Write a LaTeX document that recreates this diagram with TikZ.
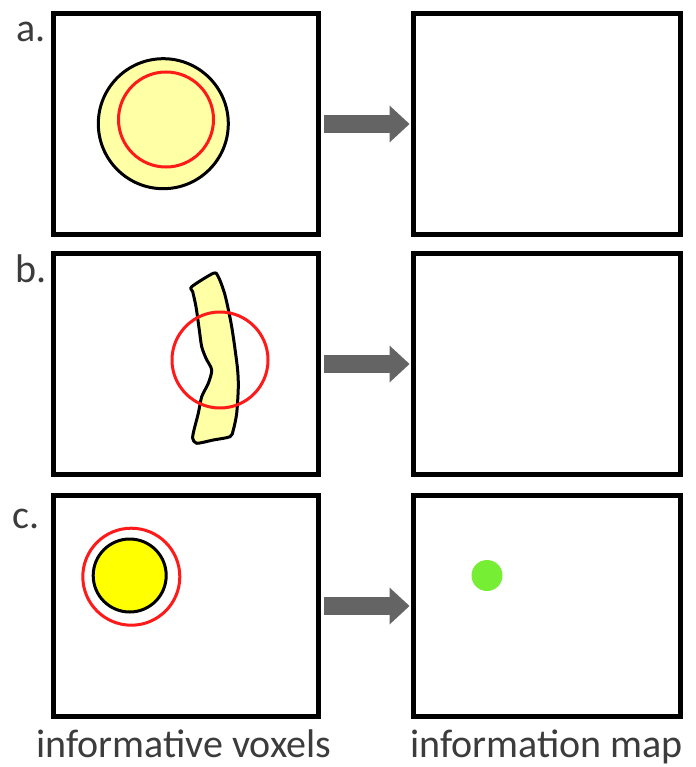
\documentclass[tikz,border=0pt]{standalone}
\usepackage{fontspec}
\setmainfont{Carlito}
\usetikzlibrary{arrows.meta}

\definecolor{inkgray}{HTML}{3C3C3C}
\definecolor{arrowgray}{HTML}{646464}
\definecolor{paleyellow}{HTML}{FFFFA6}
\definecolor{brightyellow}{HTML}{FFFF00}
\definecolor{roired}{HTML}{FF1A1A}
\definecolor{mapgreen}{RGB}{118,238,52}

\tikzset{
  panel/.style={draw=black, line width=5pt, rectangle, inner sep=0pt, outer sep=0pt, fill=white},
  leftpanel/.style={panel, minimum width=265pt, minimum height=221pt},
  rightpanel/.style={panel, minimum width=267pt, minimum height=221pt},
  tag/.style={inner sep=0pt, anchor=base west, text=inkgray, font=\fontsize{40}{44}\selectfont},
  caption/.style={tag},
  blockarrow/.style={draw=arrowgray, line width=18pt,
    -{Triangle[width=37pt,length=20pt,fill=arrowgray,line width=0pt]}},
  roi/.style={draw=roired, line width=3pt},
  region/.style={draw=black, line width=3pt},
}

\begin{document}
\begin{tikzpicture}[x=1pt, y=-1pt]
  \useasboundingbox[fill=white] (0,0) rectangle (695,767);

  % panels: input volumes (left) and resulting maps (right)
  \node[leftpanel]  (La) at (186,124) {};
  \node[rightpanel] (Ra) at (547,124) {};
  \node[leftpanel]  (Lb) at (186,364) {};
  \node[rightpanel] (Rb) at (547,364) {};
  \node[leftpanel]  (Lc) at (186,606) {};
  \node[rightpanel] (Rc) at (547,606) {};

  % row labels
  \node[tag] (ta) at (16,42)  {a.};
  \node[tag] (tb) at (15,282) {b.};
  \node[tag] (tc) at (12,528) {c.};

  % a: large informative region, searchlight entirely inside it
  \draw[region, fill=paleyellow] (163.3,123.7) circle (65);
  \draw[roi] (166,119.5) circle (47.5);

  % b: elongated informative strip, searchlight crossing it
  \draw[region, fill=paleyellow, line join=round] plot[smooth cycle, tension=0.45] coordinates {
    (191.7,286.7) (213.3,273.3) (218.3,276.7) (225,295) (231.7,326.7)
    (237.3,366.7) (238.3,386.7) (236.7,413.3) (233.3,430) (230,436.7)
    (213.3,440) (196.7,443.3) (192.7,438.3) (194,430) (198.3,413.3)
    (201.7,396.7) (208.3,383.3) (211.7,370) (206,358.3) (201.7,346.7)
    (199.3,330) (196,306.7) (192.7,291.7)};
  \draw[roi] (220,360) circle (48);

  % c: small informative region enclosed by the searchlight
  \draw[region, fill=brightyellow] (129.7,575.5) circle (36.5);
  \draw[roi] (131.3,576.7) circle (48.5);

  % c: detected location in the information map
  \fill[mapgreen] (487,575.5) circle (15.5);

  % arrows between panels
  \draw[blockarrow] ([xshift=5pt]La.east) -- ([xshift=-4pt]Ra.west);
  \draw[blockarrow] ([xshift=5pt]Lb.east) -- ([xshift=-4pt]Rb.west);
  \draw[blockarrow] ([xshift=5pt]Lc.east) -- ([xshift=-4pt]Rc.west);

  % column captions
  \node[caption] (capL) at (36,757)  {informative voxels};
  \node[caption] (capR) at (410,757) {information map};
\end{tikzpicture}
\end{document}
